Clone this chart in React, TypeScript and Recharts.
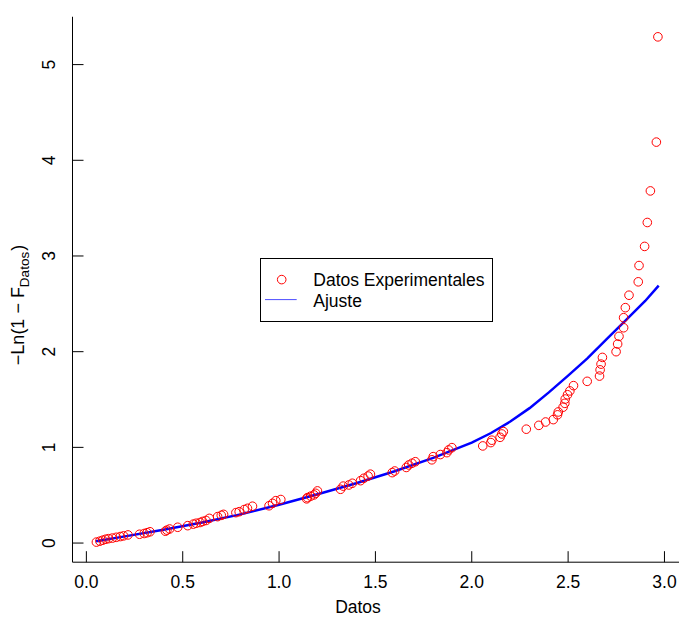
import { ComposedChart, Scatter, Line, XAxis, YAxis, Legend } from 'recharts';

const FONT = '"Liberation Sans", Arial, Helvetica, sans-serif';

// ─── Data ─────────────────────────────────────────────────────────────────────

// Datos experimentales: x = Datos, y = -Ln(1 - F)
const datosX = [
  0.052, 0.07, 0.085, 0.1, 0.115, 0.135, 0.155, 0.176, 0.193, 0.216,
  0.276, 0.3, 0.315, 0.33, 0.41, 0.418, 0.432, 0.474, 0.526, 0.555,
  0.57, 0.59, 0.604, 0.621, 0.638, 0.681, 0.7, 0.712, 0.776, 0.793,
  0.819, 0.836, 0.862, 0.948, 0.966, 0.983, 1.009, 1.143, 1.147, 1.164,
  1.181, 1.19, 1.199, 1.319, 1.333, 1.362, 1.38, 1.423, 1.44, 1.462,
  1.474, 1.587, 1.6, 1.66, 1.673, 1.69, 1.707, 1.793, 1.8, 1.837,
  1.871, 1.88, 1.897, 2.057, 2.099, 2.104, 2.147, 2.156, 2.164, 2.283,
  2.348, 2.383, 2.423, 2.445, 2.449, 2.474, 2.483, 2.485, 2.497, 2.509,
  2.528, 2.599, 2.663, 2.666, 2.671, 2.678, 2.749, 2.757, 2.764, 2.788,
  2.788, 2.797, 2.816, 2.864, 2.868, 2.897, 2.911, 2.927, 2.958, 2.966,
];
const datosY = [
  0.01, 0.02, 0.03, 0.04, 0.046, 0.052, 0.06, 0.068, 0.075, 0.085,
  0.092, 0.1, 0.108, 0.118, 0.124, 0.135, 0.147, 0.165, 0.182, 0.198,
  0.207, 0.215, 0.226, 0.236, 0.258, 0.276, 0.29, 0.3, 0.318, 0.328,
  0.35, 0.363, 0.385, 0.39, 0.415, 0.443, 0.455, 0.462, 0.475, 0.49,
  0.503, 0.52, 0.545, 0.562, 0.595, 0.607, 0.625, 0.652, 0.677, 0.7,
  0.72, 0.736, 0.753, 0.79, 0.816, 0.834, 0.85, 0.87, 0.903, 0.925,
  0.945, 0.973, 0.997, 1.015, 1.05, 1.075, 1.105, 1.14, 1.165, 1.19,
  1.23, 1.265, 1.29, 1.34, 1.37, 1.42, 1.46, 1.505, 1.55, 1.59,
  1.645, 1.69, 1.745, 1.81, 1.87, 1.94, 2.0, 2.08, 2.16, 2.25,
  2.355, 2.46, 2.59, 2.73, 2.9, 3.1, 3.35, 3.68, 4.19, 5.29,
];

// Ajuste (curva azul)
const ajusteX = [0.05, 0.2, 0.4, 0.6, 0.8, 1.0, 1.2, 1.4, 1.6, 1.8, 2.0, 2.1, 2.2, 2.3, 2.4, 2.5, 2.6, 2.7, 2.8, 2.9, 2.97];
const ajusteY = [0.02, 0.07, 0.14, 0.215, 0.3, 0.4, 0.51, 0.625, 0.75, 0.89, 1.05, 1.15, 1.27, 1.41, 1.575, 1.75, 1.93, 2.13, 2.33, 2.53, 2.69];

const xTicks = [0, 0.5, 1, 1.5, 2, 2.5, 3];
const xTickLabels = ['0.0', '0.5', '1.0', '1.5', '2.0', '2.5', '3.0'];
const yTicks = [0, 1, 2, 3, 4, 5];

const X_DOMAIN: [number, number] = [-0.072, 3.09];
const Y_DOMAIN: [number, number] = [-0.2, 5.5];

// ─── Ticks & labels ───────────────────────────────────────────────────────────

function XTick({ x, y, index }: { x?: number; y?: number; index?: number }) {
  return (
    <text x={x} y={(y ?? 0) + 12.6} textAnchor="middle" fontFamily={FONT} fontSize={17.5} fill="#000">
      {xTickLabels[index ?? 0]}
    </text>
  );
}

function YTick({ x, y, payload }: { x?: number; y?: number; payload?: { value: number } }) {
  return (
    <text
      transform={`translate(${x},${y}) rotate(-90)`}
      textAnchor="middle"
      fontFamily={FONT}
      fontSize={17.5}
      fill="#000"
    >
      {payload?.value}
    </text>
  );
}

const xTitle = () => (
  <text x={358} y={613} textAnchor="middle" fontFamily={FONT} fontSize={17.5} fill="#000">
    Datos
  </text>
);

// plotmath-like: -Ln(1 - F[Datos])
const yTitle = () => (
  <text
    transform="translate(24,305) rotate(-90)"
    textAnchor="middle"
    fontFamily={FONT}
    fontSize={18}
    fill="#000"
    xmlSpace="preserve"
  >
    {'\u2212Ln(1 \u2212 F'}
    <tspan fontSize={13.5} dy={4.5}>Datos</tspan>
    <tspan dy={-4.5} dx={1}>)</tspan>
  </text>
);

function LegendBox() {
  return (
    <div style={{ width: 233, height: 64, border: '1px solid #000', boxSizing: 'border-box', position: 'relative' }}>
      <svg width={233} height={64} style={{ position: 'absolute', left: -1, top: -1 }}>
        <circle cx={21.7} cy={21.6} r={4.3} fill="none" stroke="#ff0000" strokeWidth={1} />
        <line x1={5} x2={36.7} y1={41.6} y2={41.6} stroke="#4d4dff" strokeWidth={1} />
        <text x={53.3} y={27.9} fontFamily={FONT} fontSize={17.5} fill="#000">Datos Experimentales</text>
        <text x={53.3} y={48.6} fontFamily={FONT} fontSize={17.5} fill="#000">Ajuste</text>
      </svg>
    </div>
  );
}

const Circle = (props: { cx?: number; cy?: number }) => (
  <circle cx={props.cx} cy={props.cy} r={4.3} fill="none" stroke="#ff0000" strokeWidth={1} />
);

// ─── App ──────────────────────────────────────────────────────────────────────

export default function App() {
  const puntos = datosX.map((x, i) => ({ x, y: datosY[i] }));
  const ajuste = ajusteX.map((x, i) => ({ x, y: ajusteY[i] }));

  return (
    <div style={{ position: 'absolute', left: 0, top: 0, width: 679, height: 617, overflow: 'hidden', background: '#fff' }}>
      <ComposedChart width={690} height={617} margin={{ top: 16.75, right: 8.2, bottom: 24.8, left: 12.5 }}>
        <XAxis
          dataKey="x"
          type="number"
          domain={X_DOMAIN}
          ticks={xTicks}
          allowDataOverflow
          height={30}
          tickSize={-11}
          tickMargin={24}
          tick={<XTick />}
          axisLine={{ stroke: '#000' }}
          tickLine={{ stroke: '#000' }}
          label={xTitle}
        />
        <XAxis
          xAxisId="top"
          orientation="top"
          type="number"
          domain={X_DOMAIN}
          ticks={xTicks}
          allowDataOverflow
          height={0}
          tickSize={-11}
          tick={false}
          axisLine={{ stroke: '#000' }}
          tickLine={{ stroke: '#000' }}
        />
        <YAxis
          dataKey="y"
          type="number"
          domain={Y_DOMAIN}
          ticks={yTicks}
          allowDataOverflow
          width={60}
          tickSize={-11}
          tickMargin={29}
          tick={<YTick />}
          axisLine={{ stroke: '#000' }}
          tickLine={{ stroke: '#000' }}
          label={yTitle}
        />
        <YAxis
          yAxisId="right"
          orientation="right"
          type="number"
          domain={Y_DOMAIN}
          ticks={yTicks}
          allowDataOverflow
          width={0}
          tickSize={-11}
          tick={false}
          axisLine={{ stroke: '#000' }}
          tickLine={{ stroke: '#000' }}
        />
        <Legend
          content={<LegendBox />}
          layout="horizontal"
          verticalAlign="middle"
          align="center"
          width={233}
          height={64}
          wrapperStyle={{ left: 260, top: 257.7, width: 233, height: 64 }}
        />
        <Scatter data={puntos} dataKey="y" shape={<Circle />} isAnimationActive={false} />
        <Line
          data={ajuste}
          dataKey="y"
          type="linear"
          stroke="#0000ff"
          strokeWidth={2.5}
          dot={false}
          activeDot={false}
          isAnimationActive={false}
        />
      </ComposedChart>
    </div>
  );
}
